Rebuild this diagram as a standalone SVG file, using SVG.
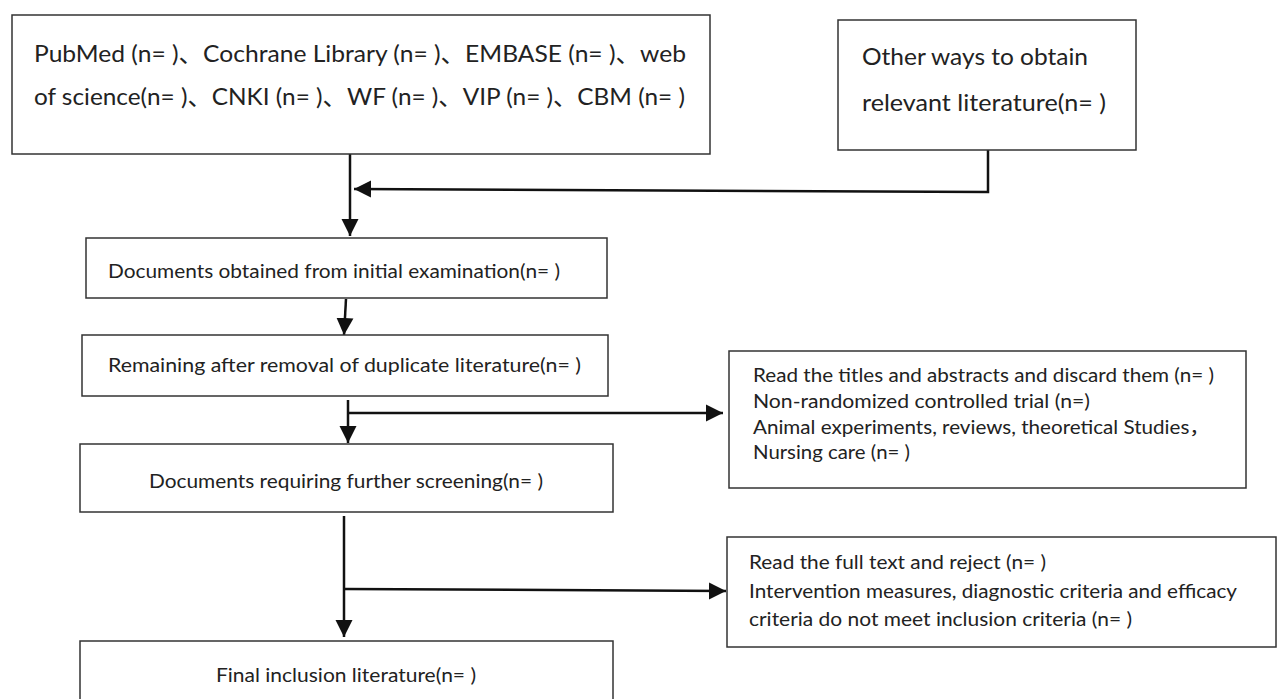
<svg xmlns="http://www.w3.org/2000/svg" width="1281" height="699" viewBox="0 0 1281 699">
<style>
.box{fill:#fff;stroke:#333;stroke-width:1.5}
.t{font-family:Lato,"Open Sans","Noto Sans CJK SC",sans-serif;fill:#222;font-size:18.5px}
.big{font-size:23px}
.c{stroke:#111;stroke-width:2.5;fill:none}
.ah{fill:#111}
</style>
<defs>
<marker id="arr" markerUnits="userSpaceOnUse" markerWidth="18" markerHeight="18" viewBox="0 0 18 18" refX="17" refY="9" orient="auto">
<path d="M0,0.5 L17,9 L0,17.5 Z" class="ah"/>
</marker>
</defs>
<rect width="1281" height="699" fill="#fff"/>
<g id="connectors">
<path class="c" d="M350,154 V236" marker-end="url(#arr)"/>
<path class="c" d="M988,150 V192 L354,189" marker-end="url(#arr)"/>
<path class="c" d="M346,299 L344,335" marker-end="url(#arr)"/>
<path class="c" d="M348,400 V443" marker-end="url(#arr)"/>
<path class="c" d="M348,413 H723" marker-end="url(#arr)"/>
<path class="c" d="M344,516 V637" marker-end="url(#arr)"/>
<path class="c" d="M344,589 L726,591" marker-end="url(#arr)"/>
</g>
<g id="n1">
<rect class="box" x="12" y="15" width="698" height="139"/>
<text class="t big" x="34" y="62" textLength="652" lengthAdjust="spacingAndGlyphs">PubMed (n= )、Cochrane Library (n= )、EMBASE (n= )、web</text>
<text class="t big" x="34" y="105" textLength="651" lengthAdjust="spacingAndGlyphs">of science(n= )、CNKI (n= )、WF (n= )、VIP (n= )、CBM (n= )</text>
</g>
<g id="n2">
<rect class="box" x="838" y="20" width="298" height="130"/>
<text class="t big" x="862" y="65" textLength="226" lengthAdjust="spacingAndGlyphs">Other ways to obtain</text>
<text class="t big" x="862" y="111" textLength="244" lengthAdjust="spacingAndGlyphs">relevant literature(n= )</text>
</g>
<g id="n3">
<rect class="box" x="86" y="238" width="521" height="60"/>
<text class="t" x="108" y="278" textLength="452" lengthAdjust="spacingAndGlyphs">Documents obtained from initial examination(n= )</text>
</g>
<g id="n4">
<rect class="box" x="82" y="335" width="526" height="61"/>
<text class="t" x="108" y="372" textLength="473" lengthAdjust="spacingAndGlyphs">Remaining after removal of duplicate literature(n= )</text>
</g>
<g id="n5">
<rect class="box" x="729" y="351" width="517" height="137"/>
<text class="t" x="753" y="382" textLength="461" lengthAdjust="spacingAndGlyphs">Read the titles and abstracts and discard them (n= )</text>
<text class="t" x="753" y="408" textLength="337" lengthAdjust="spacingAndGlyphs">Non-randomized controlled trial (n=)</text>
<text class="t" x="753" y="434" textLength="457" lengthAdjust="spacingAndGlyphs">Animal experiments, reviews, theoretical Studies，</text>
<text class="t" x="753" y="459" textLength="157" lengthAdjust="spacingAndGlyphs">Nursing care (n= )</text>
</g>
<g id="n6">
<rect class="box" x="80" y="444" width="533" height="68"/>
<text class="t" x="149" y="488" textLength="394" lengthAdjust="spacingAndGlyphs">Documents requiring further screening(n= )</text>
</g>
<g id="n7">
<rect class="box" x="727" y="537" width="549" height="110"/>
<text class="t" x="749" y="569" textLength="297" lengthAdjust="spacingAndGlyphs">Read the full text and reject (n= )</text>
<text class="t" x="749" y="598" textLength="488" lengthAdjust="spacingAndGlyphs">Intervention measures, diagnostic criteria and efficacy</text>
<text class="t" x="749" y="626" textLength="383" lengthAdjust="spacingAndGlyphs">criteria do not meet inclusion criteria (n= )</text>
</g>
<g id="n8">
<rect class="box" x="80" y="641" width="533" height="70"/>
<text class="t" x="216" y="682" textLength="260" lengthAdjust="spacingAndGlyphs">Final inclusion literature(n= )</text>
</g>
</svg>
